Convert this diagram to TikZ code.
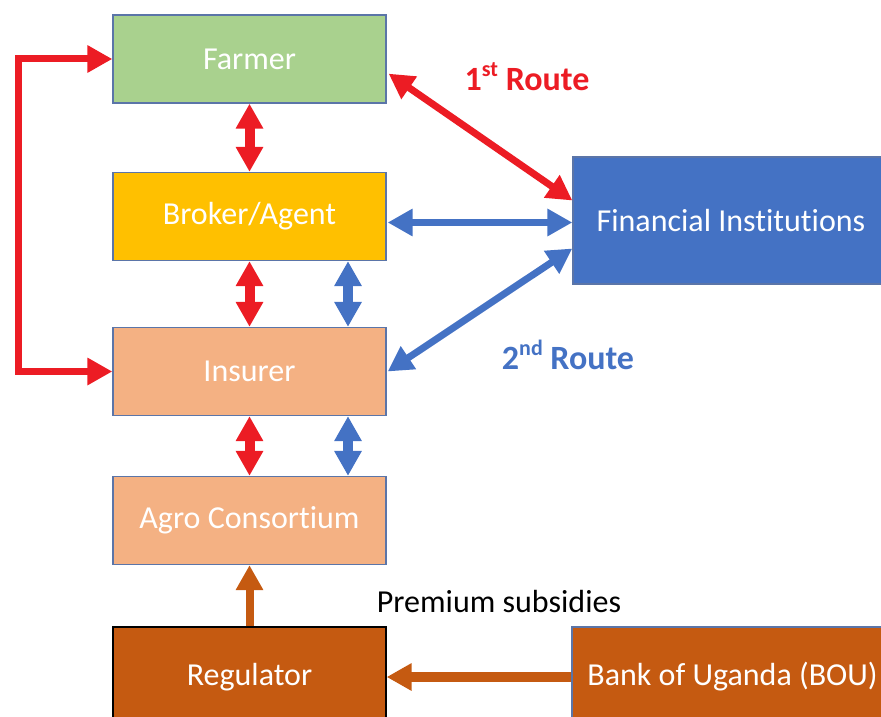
\documentclass[tikz,border=0pt]{standalone}
\usepackage{fontspec}
\setmainfont{Carlito}[Ligatures=NoCommon]
\usetikzlibrary{arrows.meta,calc}
\definecolor{cred}{HTML}{EC1C24}
\definecolor{cblue}{HTML}{4472C4}
\definecolor{cgreen}{HTML}{A9D18E}
\definecolor{cyellow}{HTML}{FFC000}
\definecolor{csalmon}{HTML}{F4B183}
\definecolor{cbrown}{HTML}{C55A11}
\definecolor{cborder}{HTML}{5B75A8}
\tikzset{
  box/.style={draw=cborder, line width=1.3pt, minimum width=273pt, minimum height=88pt,
    inner sep=0pt, text=white, font=\fontsize{32}{38}\selectfont},
  dbl/.style={line width=#1, line join=miter, {Triangle[width=26pt,length=25pt]}-{Triangle[width=26pt,length=25pt]}},
  sgl/.style={line width=#1, -{Triangle[width=26pt,length=25pt]}},
  lbl/.style={font=\fontsize{32}{38}\selectfont},
  routelbl/.style={font=\fontsize{34}{40}\selectfont\bfseries},
}
\newcommand{\sups}[1]{\raisebox{0.42em}{\fontsize{22}{26}\selectfont #1}}
\begin{document}
\begin{tikzpicture}[x=1pt,y=-1pt]
\useasboundingbox (0,0) rectangle (881,717);
\begin{scope}
\clip (0,0) rectangle (881,717);
\node[box, fill=cgreen] (farmer) at (249.5,59) {Farmer};
\node[box, fill=cyellow] (broker) at (249.5,216.5) {Broker/Agent};
\node[box, fill=csalmon] (insurer) at (249.5,371.5) {Insurer};
\node[box, fill=csalmon] (agro) at (249.5,520.5) {Agro Consortium};
\node[box, fill=cbrown, draw=black, minimum height=100pt] (reg) at (249.5,677) {Regulator};
\node[box, fill=cblue, minimum width=316pt, minimum height=127pt] (fin) at (731,220.5) {Financial Institutions};
\node[box, fill=cbrown, minimum width=321pt, minimum height=100pt] (bou) at (732.5,677) {Bank of Uganda (BOU)};
\end{scope}

% vertical double arrows
\draw[dbl=10pt, cred] (farmer.south) -- (broker.north);
\draw[dbl=10pt, cred] (broker.south) -- (insurer.north);
\draw[dbl=10pt, cred] (insurer.south) -- (agro.north);
\draw[dbl=10pt, cblue] ($(broker.south)+(98.5,0)$) -- ($(insurer.north)+(98.5,0)$);
\draw[dbl=10pt, cblue] ($(insurer.south)+(98.5,0)$) -- ($(agro.north)+(98.5,0)$);

% loop
\draw[dbl=7pt, cred] (farmer.west) -- ++(-94,0) |- (insurer.west);

% routes
\draw[dbl=7pt, cred] ($(farmer.south east)+(2,-30)$) -- ($(fin.west)+(0,-20)$);
\draw[dbl=7pt, cblue] ($(broker.east)+(1,6)$) -- ($(fin.west)+(0,2)$);
\draw[dbl=7pt, cblue] ($(fin.west)+(0,28)$) -- ($(insurer.east)+(1,0)$);

% subsidies
\draw[sgl=8pt, cbrown] (reg.north) -- (agro.south);
\draw[sgl=10pt, cbrown] (bou.west) -- (reg.east);

\node[routelbl, text=cred] (r1) at (527,77) {1\sups{st} Route};
\node[routelbl, text=cblue] (r2) at (568,355) {2\sups{nd} Route};
\node[lbl, text=black] (ps) at (499,602) {Premium subsidies};
\end{tikzpicture}
\end{document}
